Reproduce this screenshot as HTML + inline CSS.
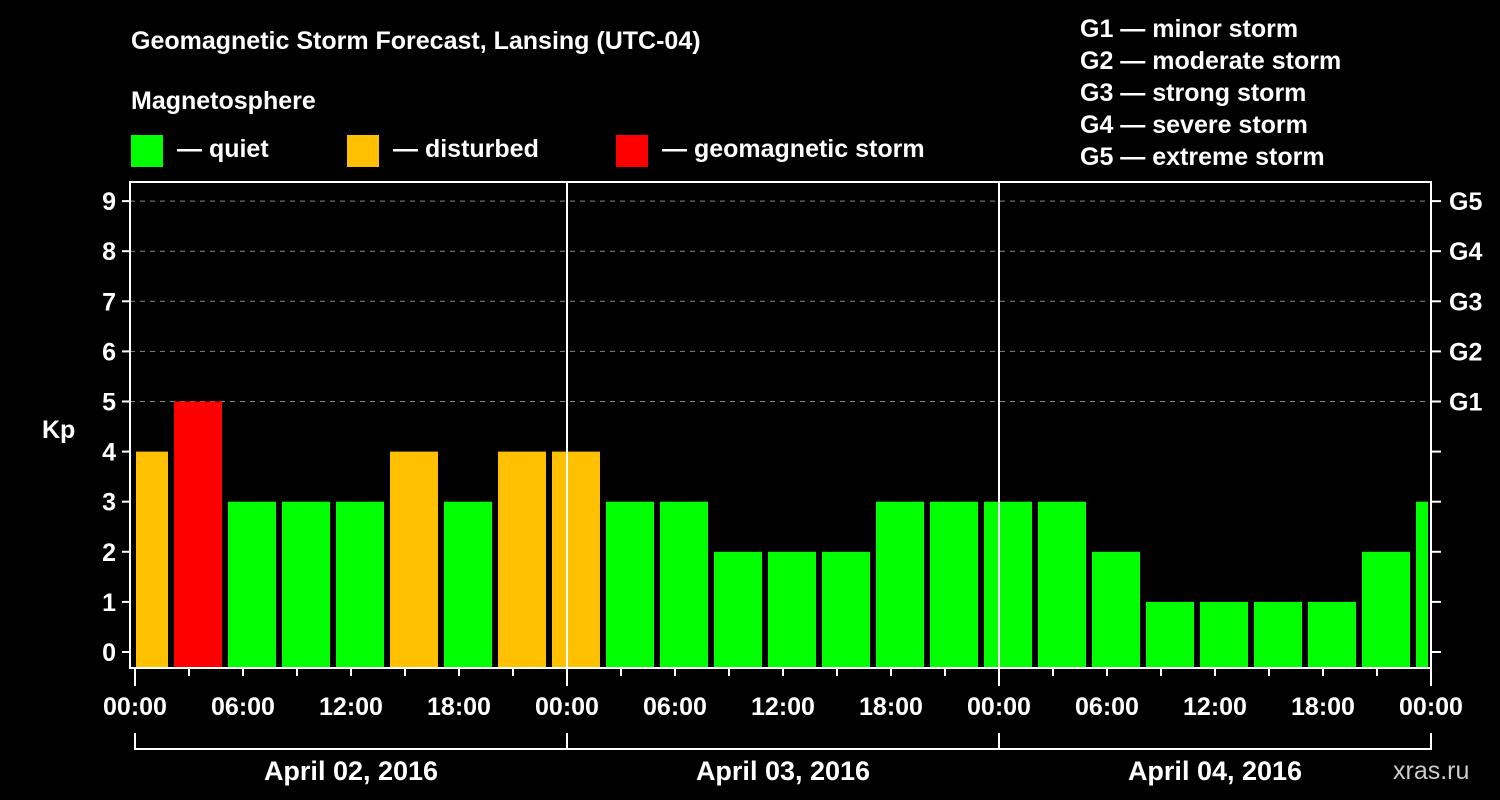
<!DOCTYPE html>
<html><head><meta charset="utf-8"><style>
html,body{margin:0;padding:0;background:#000;}
svg{display:block;font-family:"Liberation Sans",Arial,sans-serif;font-weight:bold;}
</style></head><body>
<svg id="chart" width="1500" height="800" viewBox="0 0 1500 800">
<rect width="1500" height="800" fill="#000"/>
<text x="131" y="49" fill="#fff" font-size="25">Geomagnetic Storm Forecast, Lansing (UTC-04)</text>
<text x="131" y="109" fill="#fff" font-size="25">Magnetosphere</text>
<g><rect x="131" y="135" width="32" height="32" fill="#00ff00"/><text x="177" y="157" fill="#fff" font-size="25">— quiet</text></g>
<g><rect x="347" y="135" width="32" height="32" fill="#ffc000"/><text x="393" y="157" fill="#fff" font-size="25">— disturbed</text></g>
<g><rect x="616" y="135" width="32" height="32" fill="#ff0000"/><text x="662" y="157" fill="#fff" font-size="25">— geomagnetic storm</text></g>
<g fill="#fff" font-size="25">
<text x="1080" y="37">G1 — minor storm</text>
<text x="1080" y="69">G2 — moderate storm</text>
<text x="1080" y="101">G3 — strong storm</text>
<text x="1080" y="133">G4 — severe storm</text>
<text x="1080" y="165">G5 — extreme storm</text>
</g>
<text x="42" y="438" fill="#fff" font-size="25">Kp</text>
<text x="1393" y="779" fill="#ccc" font-size="25" font-weight="normal">xras.ru</text>
<g id="grid"></g><g id="bars"></g><g id="axes"></g>
</svg>
<script>
const kpValues=[4,5,3,3,3,4,3,4,4,3,3,2,2,2,3,3,3,3,2,1,1,1,1,2,3];
const yTicks=[0,1,2,3,4,5,6,7,8,9];
const gLabels=["G1","G2","G3","G4","G5"];
const xTickLabels=["00:00","06:00","12:00","18:00","00:00","06:00","12:00","18:00","00:00","06:00","12:00","18:00","00:00"];
const dayLabels=["April 02, 2016","April 03, 2016","April 04, 2016"];
const NS="http://www.w3.org/2000/svg";
const L=130,R=1431,T=182,B=668,X0=135,PXH=18;
const y=v=>652-v*50.1;
const x=h=>X0+h*PXH;
function mk(p,tag,a){const e=document.createElementNS(NS,tag);for(const k in a)e.setAttribute(k,a[k]);p.appendChild(e);return e;}
const grid=document.getElementById('grid'),bars=document.getElementById('bars'),axes=document.getElementById('axes');
yTicks.forEach(v=>{
 if(v>=5){const g=mk(grid,'line',{x1:L,x2:R,y1:y(v),y2:y(v),stroke:'#888','stroke-dasharray':'5,5','stroke-width':1});
 }
 const t=mk(axes,'line',{x1:L-8,x2:L,y1:y(v),y2:y(v),stroke:'#fff','stroke-width':2});
 
 const t2=mk(axes,'line',{x1:R,x2:R+10,y1:y(v),y2:y(v),stroke:'#fff','stroke-width':2});
 
 const l=mk(axes,'text',{x:L-14,y:y(v)+9,fill:'#fff','font-size':25,'text-anchor':'end'});l.textContent=v;
 
});
gLabels.forEach((g,i)=>{const l=mk(axes,'text',{x:1449,y:y(5+i)+9,fill:'#fff','font-size':25});l.textContent=g;
 });
const cp=mk(bars,'clipPath',{id:'pc'});mk(cp,'rect',{x:L+6,y:T,width:R-L-9,height:B-T});
kpValues.forEach((v,k)=>{
 const c=x(3*k+0.5);
 const col=v>=5?'#ff0000':(v>=4?'#ffc000':'#00ff00');
 const r=mk(bars,'rect',{x:c-24,y:y(v),width:48,height:B-y(v),fill:col,'clip-path':'url(#pc)'});
 
});
const fr=mk(axes,'path',{d:`M${L} ${B}V${T}H${R}V${B}Z`,fill:'none',stroke:'#fff','stroke-width':2});

[24,48].forEach(h=>{const d=mk(axes,'line',{x1:x(h),x2:x(h),y1:T,y2:B,stroke:'#fff','stroke-width':2});
 });
for(let h=0;h<=72;h+=3){const long=h%24===0;
 const t=mk(axes,'line',{x1:x(h),x2:x(h),y1:B,y2:B+(long?18:8),stroke:'#fff','stroke-width':2});
 }
xTickLabels.forEach((s,i)=>{const l=mk(axes,'text',{x:x(i*6),y:715,fill:'#fff','font-size':25,'text-anchor':'middle'});l.textContent=s;
 });
const br=mk(axes,'path',{d:`M${x(0)} 733V749H${x(72)}V733M${x(24)} 733V749M${x(48)} 733V749`,fill:'none',stroke:'#fff','stroke-width':2});

dayLabels.forEach((s,i)=>{const l=mk(axes,'text',{x:x(24*i+12),y:780,fill:'#fff','font-size':27,'text-anchor':'middle'});l.textContent=s;
 });
</script>
</body></html>
